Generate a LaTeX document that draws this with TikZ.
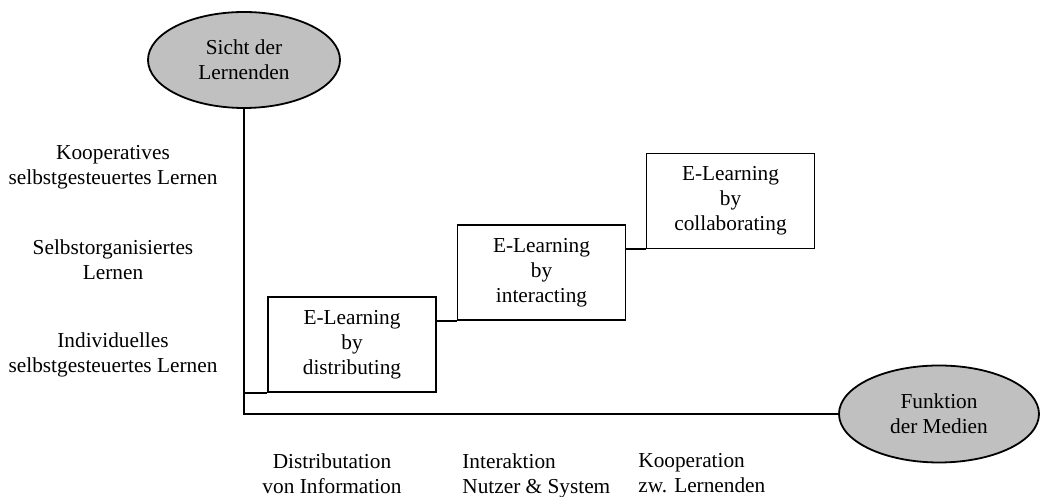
\documentclass[tikz,border=0pt]{standalone}
\usepackage{fontspec}
\setmainfont{Liberation Serif}
\usepackage{xcolor}
\usepackage{tikz}
\usetikzlibrary{shapes.geometric}

\definecolor{ellgrau}{HTML}{C0C0C0}
\tikzset{
  achse/.style={draw, ellipse, fill=ellgrau, line width=0.9pt, inner sep=0pt, align=center,
    font=\fontsize{10.65}{12.5}\selectfont},
  stufe/.style={draw, rectangle, line width=0.9pt, inner sep=0pt, align=center,
    minimum width=84pt, minimum height=47.5pt, font=\fontsize{10.65}{12.5}\selectfont},
  beschr/.style={inner sep=0pt, font=\fontsize{10.65}{12.5}\selectfont},
  linie/.style={line width=0.9pt}
}

\begin{document}
\begin{tikzpicture}[x=0.5pt, y=0.5pt]
    \useasboundingbox (0,0) rectangle (1040,497);

    % Achsen
    \node[achse, minimum width=96pt, minimum height=48pt] (sicht) at (244,437) {Sicht der\\Lernenden};
    \node[achse, minimum width=100pt, minimum height=48.5pt] (funktion) at (939,83) {Funktion\\der Medien};
    \draw[linie] (sicht) |- (funktion);

    % Stufen
    \node[stufe] (distr) at (352,152.5) {E-Learning\\by\\distributing};
    \node[stufe] (inter) at (541.5,224.5) {E-Learning\\by\\interacting};
    \node[stufe] (kolla) at (730.5,296) {E-Learning\\by\\collaborating};

    % Verbindungen
    \draw[linie] (sicht.south |- distr.south) -- (distr.south west);
    \draw[linie] (distr.east |- inter.south) -- (inter.south west);
    \draw[linie] (inter.east |- kolla.south) -- (kolla.south west);

    % Beschriftung links
    \node[beschr, align=center] (koop) at (113,330) {Kooperatives\\selbstgesteuertes Lernen};
    \node[beschr, align=center] (selbst) at (113,237) {Selbstorganisiertes\\Lernen};
    \node[beschr, align=center] (indiv) at (113,142) {Individuelles\\selbstgesteuertes Lernen};

    % Beschriftung unten
    \node[beschr, align=center, anchor=north] (distinfo) at (332,44) {Distributation\\von Information};
    \node[beschr, align=left, anchor=north west] (intnutz) at (462,44) {Interaktion\\Nutzer \& System};
    \node[beschr, align=left, anchor=north west] (koopler) at (638,44) {Kooperation\\zw. Lernenden};
\end{tikzpicture}
\end{document}
